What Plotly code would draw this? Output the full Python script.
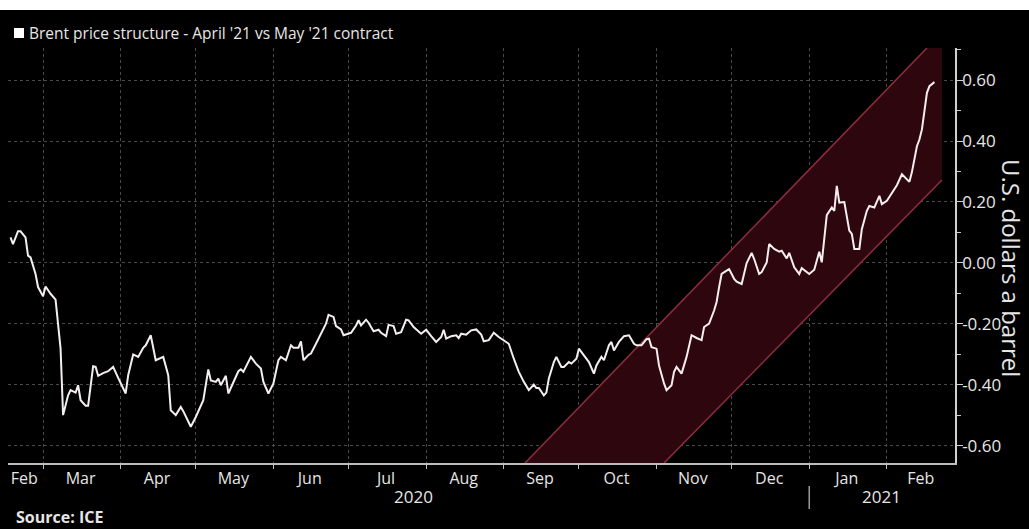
import plotly.graph_objects as go

# ---- data ----
dates = [
    "2020-02-17", "2020-02-18", "2020-02-20", "2020-02-21", "2020-02-23", "2020-02-24", "2020-02-25",
    "2020-02-27", "2020-02-28", "2020-03-01", "2020-03-02", "2020-03-04", "2020-03-06", "2020-03-08",
    "2020-03-09", "2020-03-11", "2020-03-12", "2020-03-14", "2020-03-15", "2020-03-16", "2020-03-18",
    "2020-03-19", "2020-03-21", "2020-03-22", "2020-03-23", "2020-03-25", "2020-03-27", "2020-03-29",
    "2020-03-31", "2020-04-03", "2020-04-04", "2020-04-06", "2020-04-08", "2020-04-10", "2020-04-11",
    "2020-04-13", "2020-04-15", "2020-04-18", "2020-04-20", "2020-04-21", "2020-04-23", "2020-04-25",
    "2020-04-26", "2020-04-29", "2020-05-01", "2020-05-02", "2020-05-04", "2020-05-06", "2020-05-07",
    "2020-05-09", "2020-05-10", "2020-05-11", "2020-05-13", "2020-05-14", "2020-05-16", "2020-05-18",
    "2020-05-19", "2020-05-20", "2020-05-23", "2020-05-25", "2020-05-27", "2020-05-28", "2020-05-30",
    "2020-06-01", "2020-06-03", "2020-06-04", "2020-06-06", "2020-06-08", "2020-06-09", "2020-06-11",
    "2020-06-12", "2020-06-13", "2020-06-15", "2020-06-16", "2020-06-18", "2020-06-20", "2020-06-22",
    "2020-06-23", "2020-06-25", "2020-06-26", "2020-06-28", "2020-06-29", "2020-07-01", "2020-07-02",
    "2020-07-04", "2020-07-05", "2020-07-06", "2020-07-08", "2020-07-09", "2020-07-11", "2020-07-13",
    "2020-07-14", "2020-07-16", "2020-07-17", "2020-07-19", "2020-07-20", "2020-07-22", "2020-07-24",
    "2020-07-25", "2020-07-27", "2020-07-30", "2020-08-01", "2020-08-03", "2020-08-05", "2020-08-07",
    "2020-08-08", "2020-08-09", "2020-08-11", "2020-08-13", "2020-08-14", "2020-08-15", "2020-08-17",
    "2020-08-19", "2020-08-21", "2020-08-23", "2020-08-24", "2020-08-26", "2020-08-28", "2020-08-30",
    "2020-09-01", "2020-09-03", "2020-09-05", "2020-09-07", "2020-09-09", "2020-09-10", "2020-09-11",
    "2020-09-13", "2020-09-14", "2020-09-15", "2020-09-17", "2020-09-18", "2020-09-19", "2020-09-21",
    "2020-09-22", "2020-09-24", "2020-09-25", "2020-09-27", "2020-09-28", "2020-09-30", "2020-10-01",
    "2020-10-03", "2020-10-05", "2020-10-07", "2020-10-08", "2020-10-10", "2020-10-11", "2020-10-13",
    "2020-10-14", "2020-10-15", "2020-10-17", "2020-10-19", "2020-10-21", "2020-10-23", "2020-10-24",
    "2020-10-26", "2020-10-28", "2020-10-29", "2020-10-30", "2020-11-01", "2020-11-02", "2020-11-04",
    "2020-11-05", "2020-11-07", "2020-11-08", "2020-11-09", "2020-11-11", "2020-11-13", "2020-11-15",
    "2020-11-17", "2020-11-19", "2020-11-20", "2020-11-22", "2020-11-24", "2020-11-25", "2020-11-26",
    "2020-11-27", "2020-11-29", "2020-11-30", "2020-12-02", "2020-12-03", "2020-12-05", "2020-12-07",
    "2020-12-09", "2020-12-10", "2020-12-12", "2020-12-13", "2020-12-15", "2020-12-16", "2020-12-18",
    "2020-12-20", "2020-12-21", "2020-12-23", "2020-12-24", "2020-12-26", "2020-12-28", "2020-12-29",
    "2021-01-01", "2021-01-03", "2021-01-05", "2021-01-06", "2021-01-08", "2021-01-10", "2021-01-11",
    "2021-01-12", "2021-01-13", "2021-01-15", "2021-01-17", "2021-01-18", "2021-01-19", "2021-01-21",
    "2021-01-22", "2021-01-24", "2021-01-25", "2021-01-27", "2021-01-29", "2021-01-30", "2021-02-01",
    "2021-02-03", "2021-02-05", "2021-02-07", "2021-02-09", "2021-02-10", "2021-02-11", "2021-02-13",
    "2021-02-14", "2021-02-15", "2021-02-17", "2021-02-18", "2021-02-20",
]
spread = [
    0.084, 0.062, 0.104, 0.104, 0.084, 0.024, 0.018,
    -0.036, -0.079, -0.109, -0.077, -0.101, -0.120, -0.281,
    -0.499, -0.434, -0.417, -0.425, -0.401, -0.450, -0.468,
    -0.468, -0.339, -0.341, -0.370, -0.361, -0.355, -0.341,
    -0.377, -0.428, -0.368, -0.300, -0.308, -0.278, -0.270,
    -0.237, -0.319, -0.308, -0.368, -0.483, -0.499, -0.472,
    -0.486, -0.537, -0.505, -0.488, -0.450, -0.349, -0.385,
    -0.390, -0.379, -0.401, -0.370, -0.428, -0.390, -0.355,
    -0.349, -0.357, -0.308, -0.330, -0.346, -0.390, -0.428,
    -0.395, -0.319, -0.308, -0.319, -0.270, -0.278, -0.278,
    -0.257, -0.319, -0.301, -0.297, -0.265, -0.232, -0.199,
    -0.170, -0.177, -0.207, -0.218, -0.237, -0.232, -0.229,
    -0.205, -0.188, -0.205, -0.186, -0.196, -0.224, -0.219,
    -0.229, -0.240, -0.203, -0.207, -0.232, -0.227, -0.186,
    -0.188, -0.210, -0.232, -0.219, -0.240, -0.259, -0.243,
    -0.219, -0.248, -0.240, -0.237, -0.246, -0.232, -0.235,
    -0.221, -0.218, -0.235, -0.257, -0.253, -0.229, -0.243,
    -0.253, -0.265, -0.314, -0.357, -0.390, -0.406, -0.417,
    -0.399, -0.410, -0.410, -0.434, -0.425, -0.379, -0.325,
    -0.308, -0.341, -0.341, -0.325, -0.330, -0.314, -0.281,
    -0.303, -0.325, -0.363, -0.336, -0.308, -0.319, -0.270,
    -0.259, -0.287, -0.259, -0.240, -0.237, -0.265, -0.270,
    -0.270, -0.250, -0.248, -0.276, -0.281, -0.336, -0.395,
    -0.417, -0.401, -0.357, -0.341, -0.363, -0.308, -0.237,
    -0.246, -0.253, -0.210, -0.199, -0.156, -0.128, -0.079,
    -0.036, -0.025, -0.020, -0.052, -0.061, -0.069, 0.000,
    0.033, 0.013, -0.036, -0.030, 0.002, 0.062, 0.046,
    0.037, 0.040, 0.015, 0.033, -0.014, -0.036, -0.017,
    -0.036, -0.022, 0.037, 0.002, 0.157, 0.182, 0.171,
    0.253, 0.198, 0.200, 0.106, 0.095, 0.046, 0.046,
    0.111, 0.171, 0.187, 0.182, 0.220, 0.193, 0.204,
    0.231, 0.255, 0.291, 0.275, 0.266, 0.298, 0.383,
    0.405, 0.438, 0.558, 0.580, 0.593,
]

# highlighted rising channel (polygon corners)
channel_dates = ["2020-09-09 12:00", "2021-02-17", "2021-02-23", "2021-02-23", "2020-11-04"]
channel_vals = [-0.656, 0.705, 0.705, 0.272, -0.656]
upper_dates = ["2020-09-09 12:00", "2021-02-17"]
upper_vals = [-0.656, 0.705]
lower_dates = ["2020-11-04", "2021-02-23"]
lower_vals = [-0.656, 0.272]

# axis ticks
month_label_pos = ["2020-02-22 12:00", "2020-03-16", "2020-04-15 12:00", "2020-05-16", "2020-06-15 12:00",
                   "2020-07-16", "2020-08-16", "2020-09-15 12:00", "2020-10-16", "2020-11-15 12:00",
                   "2020-12-16", "2021-01-16", "2021-02-14 12:00"]
month_labels = ["Feb", "Mar", "Apr", "May", "Jun", "Jul", "Aug", "Sep", "Oct", "Nov", "Dec", "Jan", "Feb"]
y_tick_vals = [-0.6, -0.4, -0.2, 0.0, 0.2, 0.4, 0.6]
y_tick_text = ["-0.60", "-0.40", "-0.20", "0.00", "0.20", "0.40", "0.60"]
year_labels = ["2020", "2021"]
year_label_pos = ["2020-07-27", "2021-01-30"]

FONT = "Open Sans"
TXT = "#e6e6e6"
GRID = "#4a4a4a"

fig = go.Figure()
fig.add_trace(go.Scatter(x=channel_dates, y=channel_vals, mode="lines", fill="toself",
                         fillcolor="#2e070e", line=dict(width=0), hoverinfo="skip", showlegend=False))
fig.add_trace(go.Scatter(x=upper_dates, y=upper_vals, mode="lines",
                         line=dict(color="#8f2d40", width=1.5), showlegend=False))
fig.add_trace(go.Scatter(x=lower_dates, y=lower_vals, mode="lines",
                         line=dict(color="#8f2d40", width=1.5), showlegend=False))
fig.add_trace(go.Scatter(x=dates, y=spread, mode="lines", name="Brent price structure",
                         line=dict(color="#f4eef0", width=2), showlegend=False))

fig.update_layout(
    width=1029, height=529,
    margin=dict(l=8, r=74, t=48, b=66),
    paper_bgcolor="#000000", plot_bgcolor="#000000",
    font=dict(family=FONT, color=TXT, size=16),
    xaxis=dict(
        type="date",
        range=["2020-02-16", "2021-02-28 05:00"],
        tickmode="array", tickvals=month_label_pos, ticktext=month_labels,
        ticks="", showgrid=False, zeroline=False,
        showline=True, linecolor="#bdbdbd", linewidth=1.5,
        tickfont=dict(size=16, color=TXT),
        minor=dict(tickmode="linear", tick0="2020-03-01", dtick="M1",
                   showgrid=True, gridcolor=GRID, griddash="dot", gridwidth=1,
                   ticks="outside", ticklen=4, tickcolor="#bdbdbd"),
    ),
    yaxis=dict(
        side="right",
        range=[-0.656, 0.705],
        tickmode="array", tickvals=y_tick_vals, ticktext=y_tick_text,
        ticks="outside", ticklen=6, tickcolor="#d0d0d0", tickwidth=1,
        ticklabelstandoff=-4,
        showgrid=True, gridcolor=GRID, griddash="dot", gridwidth=1,
        zeroline=False,
        showline=True, linecolor="#d0d0d0", linewidth=1.5,
        tickfont=dict(size=17, color=TXT),
        minor=dict(tickmode="linear", tick0=-0.7, dtick=0.1, ticks="outside",
                   ticklen=4, tickcolor="#d0d0d0", showgrid=False),
    ),
)

# top white strip (cropped header of source page)
fig.add_shape(type="rect", xref="paper", yref="paper", x0=-0.02, x1=1.1, y0=1.0916, y1=1.13,
              fillcolor="#ffffff", line=dict(width=0), layer="above")
# legend square
fig.add_shape(type="rect", xref="paper", yref="paper", x0=6 / 947, x1=16 / 947,
              y0=(463 - 38) / 415, y1=(463 - 28) / 415,
              fillcolor="#ffffff", line=dict(width=0))
fig.add_annotation(text="Brent price structure - April '21 vs May '21 contract",
                   xref="paper", yref="paper", x=19 / 947, y=(463 - 33) / 415,
                   xanchor="left", yanchor="middle", showarrow=False,
                   font=dict(size=15.5, color=TXT, family=FONT))
# year labels
for lab, pos in zip(year_labels, year_label_pos):
    fig.add_annotation(text=lab, x=pos, xref="x", yref="paper", y=(463 - 496) / 415,
                       xanchor="center", yanchor="middle", showarrow=False,
                       font=dict(size=17, color=TXT, family=FONT))
fig.add_shape(type="line", xref="x", yref="paper", x0="2021-01-01", x1="2021-01-01",
              y0=(463 - 486) / 415, y1=(463 - 509) / 415, line=dict(color="#9a9a9a", width=1.5))
# y axis title
fig.add_annotation(text="U.S. dollars a barrel", xref="paper", yref="paper",
                   x=(1012 - 8) / 947, y=(463 - 268) / 415, textangle=90,
                   xanchor="center", yanchor="middle", showarrow=False,
                   font=dict(size=24, color=TXT, family=FONT))
# source
fig.add_annotation(text="<b>Source: ICE</b>", xref="paper", yref="paper",
                   x=6 / 947, y=(463 - 517) / 415, xanchor="left", yanchor="middle",
                   showarrow=False, font=dict(size=16, color=TXT, family=FONT))

fig.write_html("out.html", config={"displayModeBar": False},
               post_script="document.body.style.margin='0';")
